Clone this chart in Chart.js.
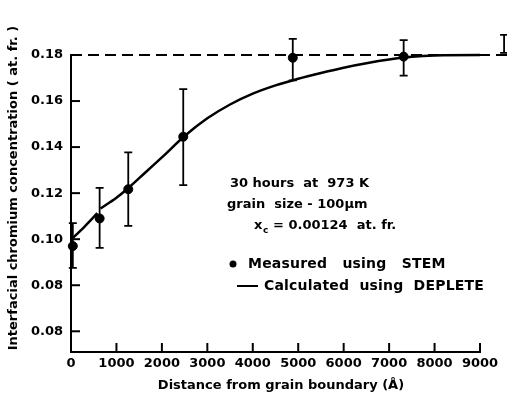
<!DOCTYPE html>
<html>
<head>
<meta charset="utf-8">
<script src="https://cdn.jsdelivr.net/npm/chart.js@4.4.1/dist/chart.umd.min.js"></script>
<style>
html,body{margin:0;padding:0;background:#fff;}
#wrap{width:507px;height:406px;position:relative;}
</style>
</head>
<body>
<div id="wrap"><canvas id="c" width="507" height="406"></canvas></div>
<script>
// ---- data ----
const xTickValues = [0,1000,2000,3000,4000,5000,6000,7000,8000,9000];
const xTickLabels = ['0','1000','2000','3000','4000','5000','6000','7000','8000','9000'];
const yTickValues = [0.06,0.08,0.10,0.12,0.14,0.16,0.18];
const yTickLabels = ['0.08','0.08','0.10','0.12','0.14','0.16','0.18'];

const measuredX = [40, 630, 1260, 2470, 4880, 7320, 9530];
const measuredY = [0.097, 0.109, 0.1217, 0.1445, 0.1788, 0.1793, 0.1843];
const errLow    = [0.0875, 0.0962, 0.1058, 0.1235, 0.169, 0.171, 0.1809];
const errHigh   = [0.107, 0.1223, 0.1377, 0.1652, 0.187, 0.1865, 0.1887];

const calcX = [0,300,580,615,650,1000,1250,1500,2000,2500,3000,3500,4000,4500,5000,5500,6000,6500,7000,7500,8000,9000,9700];
const calcY = [0.0998,0.1055,0.1113,null,0.1133,0.1180,0.1220,0.1265,0.1355,0.1448,0.1525,0.1585,0.1632,0.1668,0.1697,0.1722,0.1745,0.1764,0.1780,0.1792,0.1798,0.1800,0.1800];

const limitX = [0, 9700];
const limitY = [0.18, 0.18];

const yTitle = 'Interfacial chromium concentration ( at. fr. )';
const xTitle = 'Distance from grain boundary (\u00c5)';
const annotationLines = ['30 hours  at  973 K', 'grain  size - 100\u03bcm'];
const xcLabel = ['x', 'c', '= 0.00124  at. fr.'];
const legendLabels = ['Measured   using   STEM', 'Calculated  using  DEPLETE'];

const FONT = '"DejaVu Sans", sans-serif';

const overlay = {
  id: 'overlay',
  afterDatasetsDraw(chart) {
    const ctx = chart.ctx;
    const xs = chart.scales.x, ys = chart.scales.y;
    const area = chart.chartArea;
    ctx.save();
    ctx.strokeStyle = '#000';
    ctx.fillStyle = '#000';
    // inward tick marks
    ctx.lineWidth = 2;
    xTickValues.forEach(v => {
      if (v === 0) return;
      const px = xs.getPixelForValue(v);
      ctx.beginPath(); ctx.moveTo(px, area.bottom); ctx.lineTo(px, area.bottom - 9); ctx.stroke();
    });
    yTickValues.forEach(v => {
      const py = ys.getPixelForValue(v);
      ctx.beginPath(); ctx.moveTo(area.left, py); ctx.lineTo(area.left + 9, py); ctx.stroke();
    });
    // error bars
    ctx.lineWidth = 1.8;
    measuredX.forEach((xv, i) => {
      const px = xs.getPixelForValue(xv);
      const pl = ys.getPixelForValue(errLow[i]);
      const ph = ys.getPixelForValue(errHigh[i]);
      ctx.beginPath();
      ctx.moveTo(px, pl); ctx.lineTo(px, ph);
      ctx.moveTo(px - 4, pl); ctx.lineTo(px + 4, pl);
      ctx.moveTo(px - 4, ph); ctx.lineTo(px + 4, ph);
      ctx.stroke();
    });
    // axis titles
    ctx.save();
    ctx.font = 'bold 13px ' + FONT;
    ctx.textAlign = 'center';
    ctx.textBaseline = 'middle';
    ctx.fillText(xTitle, 281, 386);
    ctx.translate(14, 188);
    ctx.rotate(-Math.PI / 2);
    ctx.fillText(yTitle, 0, 0);
    ctx.restore();
    // annotation text
    ctx.font = 'bold 13px ' + FONT;
    ctx.textBaseline = 'middle';
    ctx.textAlign = 'left';
    ctx.fillText(annotationLines[0], 230, 184);
    ctx.fillText(annotationLines[1], 227, 205);
    ctx.fillText(xcLabel[0], 254, 226);
    ctx.font = 'bold 9px ' + FONT;
    ctx.fillText(xcLabel[1], 263, 231);
    ctx.font = 'bold 13px ' + FONT;
    ctx.fillText(xcLabel[2], 273, 226);
    // legend
    ctx.beginPath(); ctx.arc(233, 264, 3.5, 0, Math.PI * 2); ctx.fill();
    ctx.font = 'bold 14px ' + FONT;
    ctx.letterSpacing = '0.2px';
    ctx.fillText(legendLabels[0], 248, 264);
    ctx.lineWidth = 2;
    ctx.beginPath(); ctx.moveTo(237, 286); ctx.lineTo(258, 286); ctx.stroke();
    ctx.fillText(legendLabels[1], 264, 286);
    ctx.letterSpacing = '0px';
    ctx.restore();
  }
};

new Chart(document.getElementById('c'), {
  type: 'scatter',
  data: {
    datasets: [
      {
        label: 'limit',
        data: limitX.map((x, i) => ({x, y: limitY[i]})),
        showLine: true, borderColor: '#000', borderWidth: 2, borderDash: [11, 6],
        pointRadius: 0, clip: false
      },
      {
        label: 'Calculated using DEPLETE',
        data: calcX.map((x, i) => ({x, y: calcY[i]})),
        showLine: true, borderColor: '#000', borderWidth: 2.5,
        cubicInterpolationMode: 'monotone', spanGaps: false,
        pointRadius: 0, clip: false
      },
      {
        label: 'Measured using STEM',
        data: measuredX.map((x, i) => ({x, y: measuredY[i]})),
        showLine: false, pointRadius: 4.5, pointBackgroundColor: '#000', pointBorderColor: '#000',
        clip: false
      }
    ]
  },
  options: {
    responsive: false,
    animation: false,
    layout: { padding: { top: 55, right: 27, bottom: 0, left: 0 } },
    plugins: { legend: { display: false }, tooltip: { enabled: false } },
    scales: {
      x: {
        type: 'linear', min: 0, max: 9000,
        afterBuildTicks: s => { s.ticks = xTickValues.map(v => ({value: v})); },
        afterFit: s => { s.height = 54; },
        grid: { display: false, drawTicks: false },
        border: { display: true, color: '#000', width: 2 },
        ticks: {
          color: '#000', padding: 4,
          font: { family: FONT, size: 13, weight: 'bold' },
          maxRotation: 0, autoSkip: false,
          callback: (v, i) => xTickLabels[i]
        },
        title: { display: false }
      },
      y: {
        type: 'linear', min: 0.051, max: 0.18,
        afterBuildTicks: s => { s.ticks = yTickValues.map(v => ({value: v})); },
        afterFit: s => { s.width = 71; },
        grid: { display: false, drawTicks: false },
        border: { display: true, color: '#000', width: 2 },
        ticks: {
          color: '#000', padding: 8,
          font: { family: FONT, size: 13, weight: 'bold' },
          callback: (v, i) => yTickLabels[i]
        },
        title: { display: false }
      }
    }
  },
  plugins: [overlay]
});
</script>
</body>
</html>
